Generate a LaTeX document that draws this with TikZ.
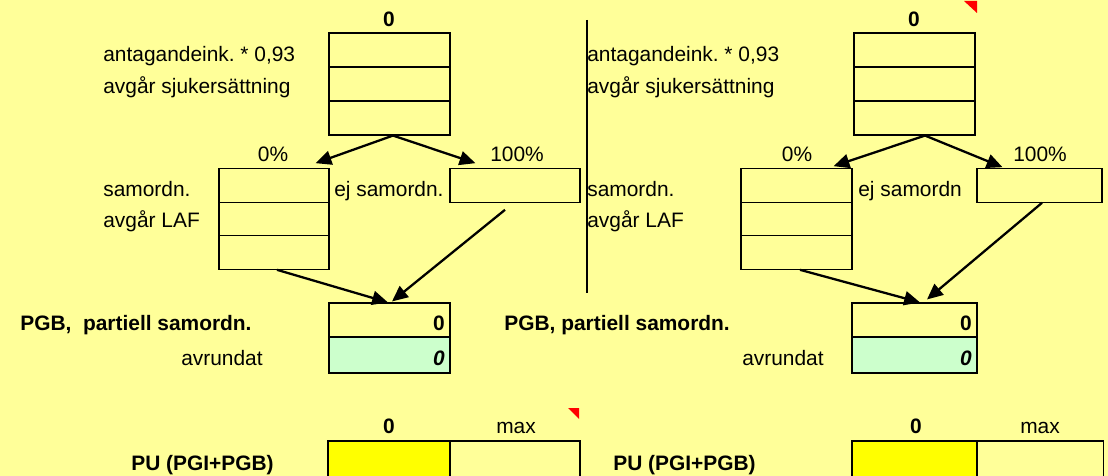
\documentclass[tikz,border=0pt]{standalone}
\usepackage{fontspec}
\setmainfont{Liberation Sans}
\usetikzlibrary{arrows.meta}
\definecolor{sheet}{HTML}{FFFF99}
\definecolor{rounded}{HTML}{CCFFCC}
\definecolor{marked}{HTML}{FFFF00}
\frenchspacing
\begin{document}
\begin{tikzpicture}[x=0.02cm,y=-0.02cm,
    every node/.style={font=\fontsize{11.9}{14}\selectfont,inner sep=0pt},
    cell/.style={draw,line width=0.65pt,minimum height=0.68cm,minimum width=#1},
    cell/.default=2.42cm,
    thickcell/.style={cell=#1,line width=1.2pt},
    lbl/.style={anchor=base west},
    rlbl/.style={anchor=base east},
    mid/.style={anchor=base},
    arr/.style={line width=1.3pt,-{Triangle[length=9pt,width=8pt]}}]

  \clip (0,0) rectangle (1108,476);
  \fill[sheet] (0,0) rectangle (1108,476);

  \begin{scope}
    \node[cell] (tA1) at (389.5,50) {};
    \node[cell] (tA2) at (389.5,84) {};
    \node[cell] (tA3) at (389.5,118) {};
    \node[cell=2.2cm,minimum height=0.67cm] (sA1) at (274,185.5) {};
    \node[cell=2.2cm,minimum height=0.67cm] (sA2) at (274,219) {};
    \node[cell=2.2cm,minimum height=0.67cm] (sA3) at (274,252.5) {};
    \node[cell=2.6cm,minimum height=0.67cm] (eA) at (515,185.5) {};
    \node[cell] (pA) at (389.5,320) {};
    \node[thickcell=2.42cm,minimum height=0.72cm,fill=rounded] (rA) at (389.5,355) {};
    \node[thickcell=2.44cm,minimum height=0.76cm,fill=marked] (uA) at (389,460) {};
    \node[cell=2.6cm,minimum height=0.76cm] (mA) at (515,460) {};

    \node[cell] (tB1) at (914.5,50) {};
    \node[cell] (tB2) at (914.5,84) {};
    \node[cell] (tB3) at (914.5,118) {};
    \node[cell=2.22cm,minimum height=0.67cm] (sB1) at (796.5,185.5) {};
    \node[cell=2.22cm,minimum height=0.67cm] (sB2) at (796.5,219) {};
    \node[cell=2.22cm,minimum height=0.67cm] (sB3) at (796.5,252.5) {};
    \node[cell=2.5cm,minimum height=0.67cm] (eB) at (1039.5,185.5) {};
    \node[cell=2.5cm] (pB) at (914.5,320) {};
    \node[thickcell=2.5cm,minimum height=0.72cm,fill=rounded] (rB) at (914.5,355) {};
    \node[thickcell=2.5cm,minimum height=0.76cm,fill=marked] (uB) at (914.5,460) {};
    \node[cell=2.54cm,minimum height=0.76cm] (mB) at (1040,460) {};
  \end{scope}

  \begin{scope}
    \node[mid,font=\fontsize{11.9}{14}\selectfont\bfseries] (hA) at (389,27) {0};
    \node[lbl] (aA) at (103,62) {antagandeink. * 0,93};
    \node[lbl] (bA) at (103,94) {avgår sjukersättning};
    \node[mid] (qA0) at (273,162) {0\%};
    \node[mid] (qA1) at (517,162) {100\%};
    \node[lbl] (cA) at (103,196) {samordn.};
    \node[lbl] (dA) at (103,228) {avgår LAF};
    \node[lbl] (fA) at (334,196) {ej samordn.};
    \node[lbl,font=\fontsize{11.9}{14}\selectfont\bfseries] (gA) at (20,330) {PGB,\ \ partiell samordn.};
    \node[rlbl] (vA) at (263,365) {avrundat};
    \node[rlbl,font=\fontsize{11.9}{14}\selectfont\bfseries] (pvA) at (445,330) {0};
    \node[rlbl,font=\fontsize{11.9}{14}\selectfont\bfseries\itshape] (rvA) at (445,365) {0};
    \node[mid,font=\fontsize{11.9}{14}\selectfont\bfseries] (uvA) at (389,433) {0};
    \node[mid] (xA) at (516,433) {max};
    \node[rlbl,font=\fontsize{11.9}{14}\selectfont\bfseries] (kA) at (274,470) {PU (PGI+PGB)};

    \node[mid,font=\fontsize{11.9}{14}\selectfont\bfseries] (hB) at (914,27) {0};
    \node[lbl] (aB) at (587,62) {antagandeink. * 0,93};
    \node[lbl] (bB) at (587,94) {avgår sjukersättning};
    \node[mid] (qB0) at (797,162) {0\%};
    \node[mid] (qB1) at (1040,162) {100\%};
    \node[lbl] (cB) at (587,196) {samordn.};
    \node[lbl] (dB) at (587,228) {avgår LAF};
    \node[lbl] (fB) at (858,196) {ej samordn};
    \node[lbl,font=\fontsize{11.9}{14}\selectfont\bfseries] (gB) at (504,330) {PGB, partiell samordn.};
    \node[rlbl] (vB) at (824,365) {avrundat};
    \node[rlbl,font=\fontsize{11.9}{14}\selectfont\bfseries] (pvB) at (972,330) {0};
    \node[rlbl,font=\fontsize{11.9}{14}\selectfont\bfseries\itshape] (rvB) at (972,365) {0};
    \node[mid,font=\fontsize{11.9}{14}\selectfont\bfseries] (uvB) at (916,433) {0};
    \node[mid] (xB) at (1040,433) {max};
    \node[lbl,font=\fontsize{11.9}{14}\selectfont\bfseries] (kB) at (613,470) {PU (PGI+PGB)};
  \end{scope}

  \draw[line width=1.2pt] (587,20) -- (587,293);
  \fill[red] (568,408) -- (579,408) -- (579,419) -- cycle;
  \fill[red] (964,1) -- (977,1) -- (977,13) -- cycle;

  \draw[arr] ([xshift=0.07cm]tA3.south) -- ([xshift=-0.28cm,yshift=0.1cm]sA1.north east);
  \draw[arr] ([xshift=0.07cm]tA3.south) -- ([xshift=0.52cm,yshift=0.1cm]eA.north west);
  \draw[arr] ([xshift=0.06cm]sA3.south) -- ([xshift=-0.03cm]pA.north);
  \draw[arr] ([xshift=-0.2cm,yshift=-0.14cm]eA.south) -- ([xshift=0.05cm,yshift=0.02cm]pA.north);

  \draw[arr] ([xshift=0.21cm]tB3.south) -- ([xshift=-0.38cm,yshift=0.04cm]sB1.north east);
  \draw[arr] ([xshift=0.21cm]tB3.south) -- ([xshift=0.52cm,yshift=0.02cm]eB.north west);
  \draw[arr] ([xshift=0.07cm]sB3.south) -- ([xshift=0.11cm]pB.north);
  \draw[arr] ([xshift=0.05cm]eB.south) -- ([xshift=0.25cm,yshift=0.06cm]pB.north);

\end{tikzpicture}
\end{document}
